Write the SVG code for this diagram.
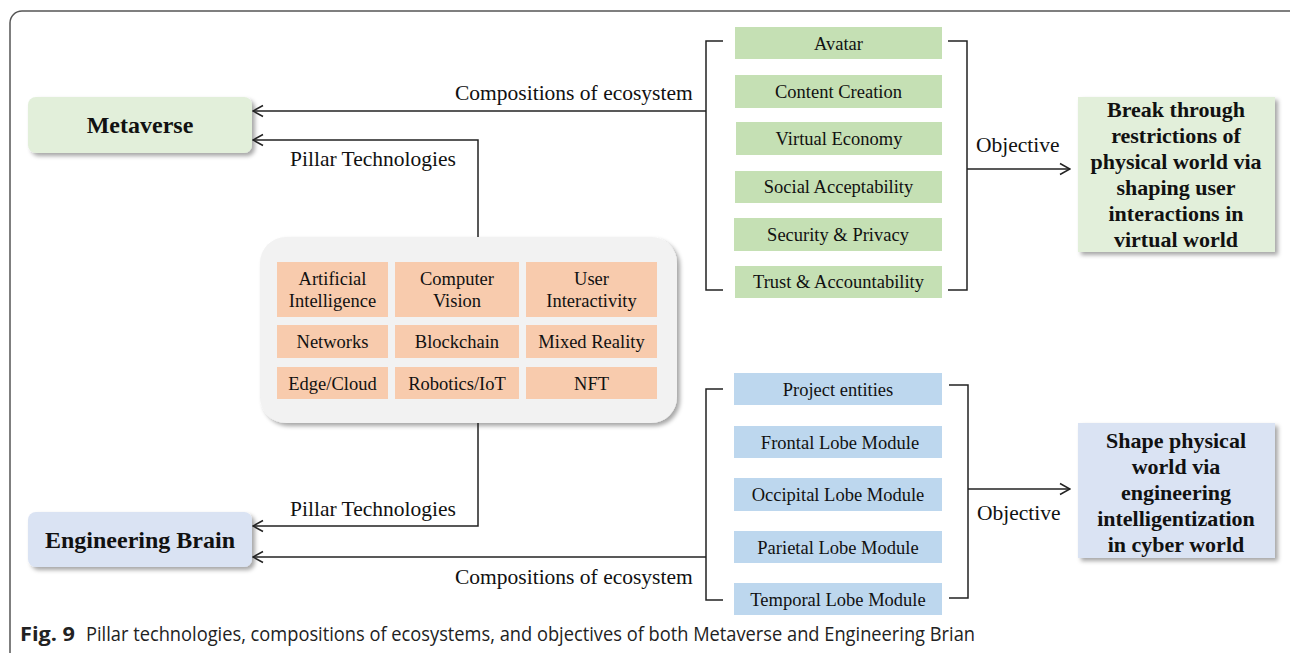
<svg xmlns="http://www.w3.org/2000/svg" width="1290" height="653" viewBox="0 0 1290 653">
<defs>
<style>
.lbl{font-family:"Liberation Serif","Times New Roman",serif;font-size:21.5px;fill:#111}
.box{font-family:"Liberation Serif","Times New Roman",serif;font-size:18.5px;fill:#111;text-anchor:middle}
.bold{font-family:"Liberation Serif","Times New Roman",serif;font-weight:bold;fill:#111;text-anchor:middle}
.ln{fill:none;stroke:#222;stroke-width:1.5}
.g{fill:#c5e0b4}
.b{fill:#bdd7ee}
.o{fill:#f8cbad}
</style>
<marker id="ar" markerUnits="userSpaceOnUse" markerWidth="14" markerHeight="14" refX="13" refY="7" orient="auto" viewBox="0 0 14 14">
<path d="M3,1.5 L13,7 L3,12.5" fill="none" stroke="#222" stroke-width="1.5"/>
</marker>
<filter id="sh" x="-10%" y="-10%" width="130%" height="130%">
<feDropShadow dx="3" dy="3" stdDeviation="2" flood-color="#000" flood-opacity="0.35"/>
</filter>
</defs>
<rect x="10" y="11" width="1295" height="670" rx="12" fill="#fff" stroke="#555" stroke-width="1.5"/>

<g id="metaverse">
<rect x="28" y="97" width="224" height="56" rx="8" fill="#e2efda" filter="url(#sh)"/>
<text class="bold" x="140" y="133" font-size="24">Metaverse</text>
</g>
<g id="engineering-brain">
<rect x="28" y="512" width="224" height="55" rx="8" fill="#dae3f3" filter="url(#sh)"/>
<text class="bold" x="140" y="548" font-size="24">Engineering Brain</text>
</g>

<g id="pillar-technologies">
<rect x="260" y="237" width="417" height="186" rx="26" fill="#f2f2f2" filter="url(#sh)"/>
<rect class="o" x="277" y="262" width="111" height="55"/>
<rect class="o" x="395" y="262" width="124" height="55"/>
<rect class="o" x="526" y="262" width="131" height="55"/>
<rect class="o" x="277" y="325" width="111" height="33"/>
<rect class="o" x="395" y="325" width="124" height="33"/>
<rect class="o" x="526" y="325" width="131" height="33"/>
<rect class="o" x="277" y="367" width="111" height="32"/>
<rect class="o" x="395" y="367" width="124" height="32"/>
<rect class="o" x="526" y="367" width="131" height="32"/>
<text class="box" x="332.5" y="285">Artificial</text>
<text class="box" x="332.5" y="307">Intelligence</text>
<text class="box" x="457" y="285">Computer</text>
<text class="box" x="457" y="307">Vision</text>
<text class="box" x="591.5" y="285">User</text>
<text class="box" x="591.5" y="307">Interactivity</text>
<text class="box" x="332.5" y="348">Networks</text>
<text class="box" x="457" y="348">Blockchain</text>
<text class="box" x="591.5" y="348">Mixed Reality</text>
<text class="box" x="332.5" y="389.5">Edge/Cloud</text>
<text class="box" x="457" y="389.5">Robotics/IoT</text>
<text class="box" x="591.5" y="389.5">NFT</text>
</g>

<g id="metaverse-ecosystem">
<rect class="g" x="735" y="27" width="207" height="32"/>
<rect class="g" x="735" y="75" width="207" height="33"/>
<rect class="g" x="736" y="122" width="206" height="33"/>
<rect class="g" x="735" y="171" width="207" height="32"/>
<rect class="g" x="734" y="218" width="208" height="33"/>
<rect class="g" x="735" y="266" width="207" height="32"/>
<text class="box" x="838.5" y="49.5">Avatar</text>
<text class="box" x="838.5" y="98">Content Creation</text>
<text class="box" x="839" y="145">Virtual Economy</text>
<text class="box" x="838.5" y="193">Social Acceptability</text>
<text class="box" x="838" y="241">Security &amp; Privacy</text>
<text class="box" x="838.5" y="288">Trust &amp; Accountability</text>
</g>

<g id="engineering-brain-ecosystem">
<rect class="b" x="734" y="373" width="208" height="32"/>
<rect class="b" x="734" y="426" width="208" height="32"/>
<rect class="b" x="734" y="478" width="208" height="33"/>
<rect class="b" x="734" y="531" width="208" height="32"/>
<rect class="b" x="734" y="583" width="208" height="32"/>
<text class="box" x="838" y="395.5">Project entities</text>
<text class="box" x="840" y="448.5">Frontal Lobe Module</text>
<text class="box" x="838" y="501">Occipital Lobe Module</text>
<text class="box" x="838" y="553.5">Parietal Lobe Module</text>
<text class="box" x="838" y="605.5">Temporal Lobe Module</text>
</g>

<g id="metaverse-objective">
<rect x="1078" y="97" width="197" height="155" fill="#e2efda" filter="url(#sh)"/>
<text class="bold" font-size="22" x="1176" y="117">Break through</text>
<text class="bold" font-size="22" x="1176" y="143">restrictions of</text>
<text class="bold" font-size="22" x="1176" y="169">physical world via</text>
<text class="bold" font-size="22" x="1176" y="195">shaping user</text>
<text class="bold" font-size="22" x="1176" y="221">interactions in</text>
<text class="bold" font-size="22" x="1176" y="247">virtual world</text>
</g>

<g id="engineering-brain-objective">
<rect x="1078" y="423" width="197" height="135" fill="#dae3f3" filter="url(#sh)"/>
<text class="bold" font-size="22" x="1176" y="448">Shape physical</text>
<text class="bold" font-size="22" x="1176" y="474">world via</text>
<text class="bold" font-size="22" x="1176" y="500">engineering</text>
<text class="bold" font-size="22" x="1176" y="526">intelligentization</text>
<text class="bold" font-size="22" x="1176" y="552">in cyber world</text>
</g>

<g id="connectors">
<path class="ln" d="M706,111 L253,111" marker-end="url(#ar)"/>
<path class="ln" d="M478,237 L478,140 L253,140" marker-end="url(#ar)"/>
<path class="ln" d="M478,423 L478,526 L253,526" marker-end="url(#ar)"/>
<path class="ln" d="M706,557 L253,557" marker-end="url(#ar)"/>
<path class="ln" d="M723,41 L706,41 L706,290 L723,290"/>
<path class="ln" d="M948,41 L967,41 L967,290 L948,290"/>
<path class="ln" d="M967,169 L1070,169" marker-end="url(#ar)"/>
<path class="ln" d="M723,389 L706,389 L706,600 L723,600"/>
<path class="ln" d="M949,385 L968,385 L968,598 L949,598"/>
<path class="ln" d="M968,489 L1070,489" marker-end="url(#ar)"/>
<text class="lbl" x="455" y="100">Compositions of ecosystem</text>
<text class="lbl" x="290" y="166">Pillar Technologies</text>
<text class="lbl" x="290" y="516">Pillar Technologies</text>
<text class="lbl" x="455" y="584">Compositions of ecosystem</text>
<text class="lbl" x="976" y="152">Objective</text>
<text class="lbl" x="977" y="520">Objective</text>
</g>

<text x="20" y="641" font-family="'Open Sans','Noto Sans',sans-serif" font-weight="bold" font-size="20" fill="#222" textLength="55" lengthAdjust="spacingAndGlyphs">Fig. 9</text>
<text x="86" y="641" font-family="'Open Sans','Noto Sans',sans-serif" font-size="20" fill="#222" textLength="889" lengthAdjust="spacingAndGlyphs">Pillar technologies, compositions of ecosystems, and objectives of both Metaverse and Engineering Brian</text>
</svg>
